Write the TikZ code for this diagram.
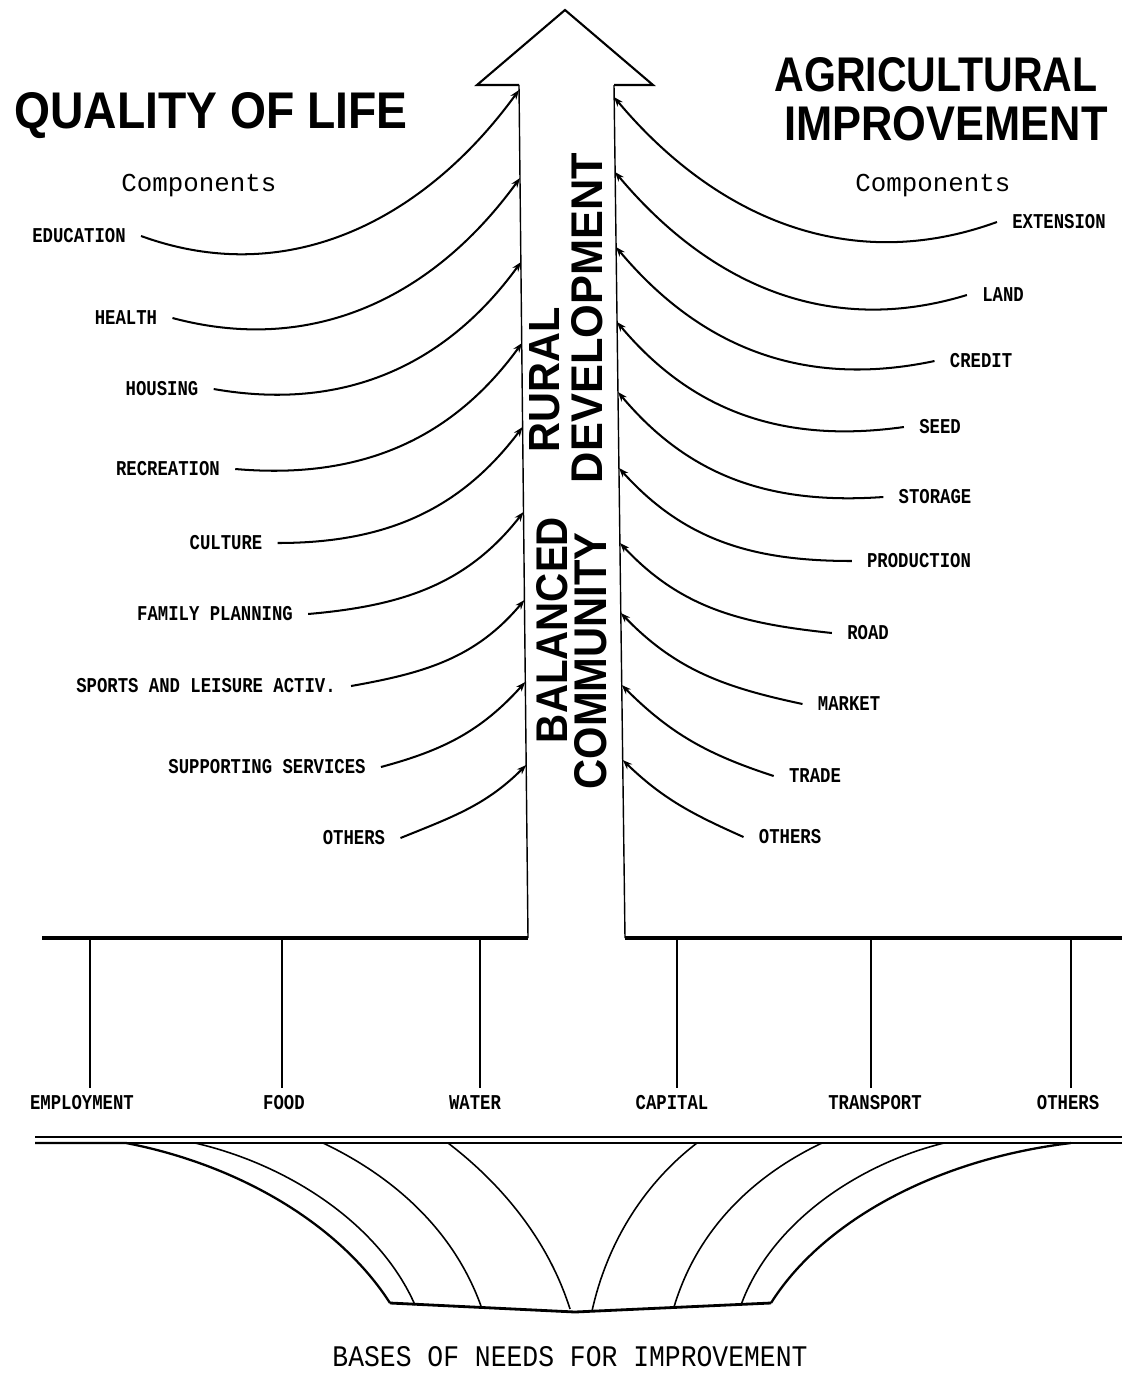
\documentclass[tikz,border=0pt]{standalone}
\usepackage{fontspec}
\setmainfont{Liberation Sans}
\newfontfamily\monofont{Liberation Mono}
\newfontfamily\lblfont[FakeStretch=0.82]{Liberation Mono}
\usetikzlibrary{arrows.meta}
\newlength{\px}\setlength{\px}{0.2mm}
\begin{document}
\begin{tikzpicture}[x=0.2mm,y=0.2mm,
  lbl/.style={font=\lblfont\bfseries\fontsize{12}{12}\selectfont, inner xsep=3mm, inner ysep=0pt},
  blbl/.style={font=\lblfont\bfseries\fontsize{12}{12}\selectfont, inner xsep=0pt, inner ysep=1.6mm},
  conn/.style={line width=1.15pt, -{Stealth[length=5.5pt,width=4pt]}},
  shaftline/.style={line width=0.8pt},
  headline/.style={line width=1.2pt, line join=miter},
  baseline/.style={line width=2.2pt},
  drop/.style={line width=0.7pt},
  funnel/.style={line width=0.9pt},
  outerfunnel/.style={line width=1.3pt},
  vtext/.style={rotate=90, inner sep=0pt, font=\bfseries},
  title/.style={inner sep=0pt, font=\bfseries},
  comp/.style={inner sep=0pt, font=\monofont\fontsize{14.7}{15}\selectfont}
]
\useasboundingbox (0,0) rectangle (1127,-1374);

% ---- big arrow
\coordinate (sL) at (519,-85);
\coordinate (sLb) at (528,-938);
\coordinate (sR) at (614,-85);
\coordinate (sRb) at (625,-938);
\coordinate (hl) at (477,-85);
\coordinate (apex) at (565,-10);
\coordinate (hr) at (653,-85);
\coordinate (bl) at (42,-938);
\coordinate (br) at (1122,-938);
\draw[shaftline] (sLb) -- (sL);
\draw[shaftline] (sRb) -- (sR);
\draw[headline] (sL) -- (hl) -- (apex) -- (hr) -- (sR);
\draw[baseline] (bl) -- (sLb);
\draw[baseline] (sRb) -- (br);

% ---- vertical texts
\node[vtext] (bal) at (552,-630) {\resizebox{226\px}{31\px}{BALANCED}};
\node[vtext] (rur) at (545,-380) {\resizebox{145\px}{30\px}{RURAL}};
\node[vtext] (com) at (591,-661) {\resizebox{257\px}{32\px}{COMMUNITY}};
\node[vtext] (dev) at (587,-318) {\resizebox{330\px}{31\px}{DEVELOPMENT}};

% ---- titles
\node[title] (qol) at (211,-116) {\resizebox{393\px}{36\px}{QUALITY OF LIFE}};
\node[title] (agr) at (936,-75) {\resizebox{323\px}{34\px}{AGRICULTURAL}};
\node[title] (imp) at (946,-124) {\resizebox{323\px}{34\px}{IMPROVEMENT}};
\node[comp] (compL) at (199,-186) {Components};
\node[comp] (compR) at (933,-186) {Components};

% ---- shaft targets
\coordinate (L1) at (519,-90);
\coordinate (L2) at (520,-178);
\coordinate (L3) at (521,-262);
\coordinate (L4) at (522,-343);
\coordinate (L5) at (522.6,-427);
\coordinate (L6) at (523.5,-512);
\coordinate (L7) at (524.4,-600);
\coordinate (L8) at (525.3,-682);
\coordinate (L9) at (526.2,-765);
\coordinate (R1) at (614,-97);
\coordinate (R2) at (615,-172);
\coordinate (R3) at (616,-247);
\coordinate (R4) at (617,-322);
\coordinate (R5) at (618,-392);
\coordinate (R6) at (619,-468);
\coordinate (R7) at (620,-543);
\coordinate (R8) at (620.8,-613);
\coordinate (R9) at (621.7,-685);
\coordinate (R10) at (622.7,-760);

% ---- left components
\node[lbl] (edu) at (79,-236) {EDUCATION};
\node[lbl] (hea) at (126,-318) {HEALTH};
\node[lbl] (hou) at (162,-389) {HOUSING};
\node[lbl] (rec) at (168,-469) {RECREATION};
\node[lbl] (cul) at (226,-543) {CULTURE};
\node[lbl] (fam) at (215,-614) {FAMILY PLANNING};
\node[lbl] (spo) at (206,-686) {SPORTS AND LEISURE ACTIV.};
\node[lbl] (sup) at (267,-767) {SUPPORTING SERVICES};
\node[lbl] (othL) at (354,-838) {OTHERS};

\draw[conn] (edu.east) to[out=-20,in=234] (L1);
\draw[conn] (hea.east) to[out=-15,in=234] (L2);
\draw[conn] (hou.east) to[out=-10,in=234] (L3);
\draw[conn] (rec.east) to[out=-5,in=234] (L4);
\draw[conn] (cul.east) to[out=0,in=233] (L5);
\draw[conn] (fam.east) to[out=5,in=232] (L6);
\draw[conn] (spo.east) to[out=10,in=230] (L7);
\draw[conn] (sup.east) to[out=15,in=228] (L8);
\draw[conn] (othL.east) to[out=22,in=225] (L9);

% ---- right components
\node[lbl] (ext) at (1059,-222) {EXTENSION};
\node[lbl] (lan) at (1003,-295) {LAND};
\node[lbl] (cre) at (981,-361) {CREDIT};
\node[lbl] (see) at (940,-427) {SEED};
\node[lbl] (sto) at (935,-497) {STORAGE};
\node[lbl] (pro) at (919,-561) {PRODUCTION};
\node[lbl] (roa) at (868,-633) {ROAD};
\node[lbl] (mar) at (849,-704) {MARKET};
\node[lbl] (tra) at (815,-776) {TRADE};
\node[lbl] (othR) at (790,-837) {OTHERS};

\draw[conn] (ext.west) to[out=200,in=-50] (R1);
\draw[conn] (lan.west) to[out=197,in=-50] (R2);
\draw[conn] (cre.west) to[out=192,in=-50] (R3);
\draw[conn] (see.west) to[out=188,in=-50] (R4);
\draw[conn] (sto.west) to[out=184,in=-50] (R5);
\draw[conn] (pro.west) to[out=180,in=-48] (R6);
\draw[conn] (roa.west) to[out=174,in=-47] (R7);
\draw[conn] (mar.west) to[out=168,in=-46] (R8);
\draw[conn] (tra.west) to[out=162,in=-45] (R9);
\draw[conn] (othR.west) to[out=156,in=-44] (R10);

% ---- bases
\node[blbl] (emp) at (82,-1103) {EMPLOYMENT};
\node[blbl] (foo) at (284,-1103) {FOOD};
\node[blbl] (wat) at (475,-1103) {WATER};
\node[blbl] (cap) at (672,-1103) {CAPITAL};
\node[blbl] (trn) at (875,-1103) {TRANSPORT};
\node[blbl] (othB) at (1068,-1103) {OTHERS};
\coordinate (d1) at (90,-938);
\coordinate (d2) at (282,-938);
\coordinate (d3) at (480,-938);
\coordinate (d4) at (677,-938);
\coordinate (d5) at (871,-938);
\coordinate (d6) at (1071,-938);
\draw[drop] (d1) -- (d1 |- emp.north);
\draw[drop] (d2) -- (d2 |- foo.north);
\draw[drop] (d3) -- (d3 |- wat.north);
\draw[drop] (d4) -- (d4 |- cap.north);
\draw[drop] (d5) -- (d5 |- trn.north);
\draw[drop] (d6) -- (d6 |- othB.north);

% ---- funnel
\draw[line width=1.1pt] (35,-1137) -- (1122,-1137);
\draw[line width=1.1pt] (35,-1143) -- (1122,-1143);
\draw[outerfunnel] (35,-1143) -- (126,-1143) .. controls (240,-1165) and (340,-1225) .. (390,-1303);
\draw[funnel] (195,-1143) .. controls (290,-1165) and (380,-1225) .. (415,-1305);
\draw[funnel] (323,-1143) .. controls (380,-1170) and (450,-1220) .. (481,-1306);
\draw[funnel] (448,-1143) .. controls (490,-1175) and (545,-1230) .. (570,-1309);
\draw[funnel] (697,-1143) .. controls (655,-1175) and (610,-1230) .. (592,-1311);
\draw[funnel] (822,-1143) .. controls (765,-1170) and (700,-1220) .. (674,-1307);
\draw[funnel] (944,-1143) .. controls (855,-1165) and (770,-1225) .. (741,-1305);
\draw[outerfunnel] (1071,-1143) .. controls (930,-1160) and (820,-1225) .. (771,-1303);
\draw[line width=1.6pt, line join=round] (390,-1303) -- (575,-1312) -- (771,-1303);

\node[inner sep=0pt] (bases) at (570,-1357) {\resizebox{475\px}{20\px}{\monofont BASES OF NEEDS FOR IMPROVEMENT}};
\end{tikzpicture}
\end{document}
